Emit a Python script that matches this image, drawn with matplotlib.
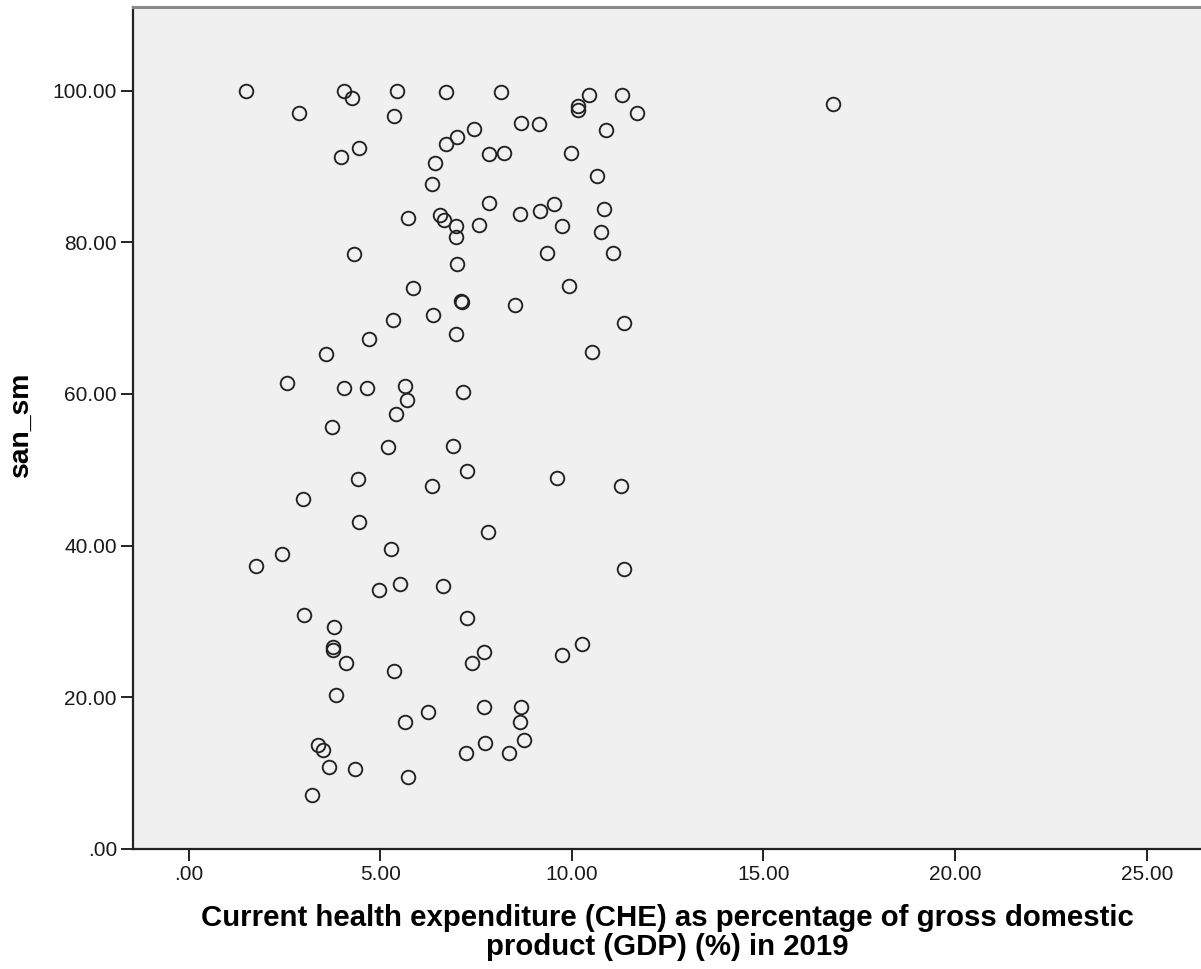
import matplotlib.pyplot as plt
from matplotlib.ticker import FuncFormatter, MultipleLocator

# CHE as % of GDP (2019) against san_sm, one point per country
che_gdp = [
    1.50, 2.89, 4.05, 4.26, 5.44, 5.35, 3.98, 4.46, 4.32, 6.71,
    8.16, 10.45, 11.31, 10.16, 10.16, 11.71, 8.67, 9.14, 10.88, 7.45,
    7.01, 6.72, 7.83, 8.22, 9.97, 6.44, 6.34, 10.66, 7.83, 9.53,
    10.85, 9.16, 8.65, 5.73, 6.57, 6.67, 6.97, 6.97, 7.58, 9.75,
    10.75, 9.34, 11.07, 7.01, 5.85, 9.92, 7.10, 7.14, 8.52, 6.38,
    5.33, 6.98, 4.72, 3.58, 2.57, 4.06, 4.66, 5.64, 5.69, 5.42,
    7.16, 3.75, 5.20, 6.91, 7.27, 4.43, 6.36, 2.98, 16.81, 11.37,
    10.53, 9.60, 11.28, 4.46, 7.82, 5.29, 2.45, 1.76, 4.96, 5.52,
    6.65, 3.00, 3.79, 3.78, 3.76, 4.11, 5.35, 7.26, 7.70, 7.39,
    3.86, 7.70, 6.24, 5.66, 11.37, 10.27, 9.75, 8.68, 8.65, 8.74,
    7.74, 7.24, 8.35, 3.39, 3.52, 3.67, 4.33, 5.72, 3.22,
]
san_sm = [
    100.0, 97.1, 100.0, 99.1, 100.0, 96.7, 91.2, 92.4, 78.5, 99.9,
    99.8, 99.5, 99.5, 98.0, 97.5, 97.0, 95.7, 95.6, 94.8, 94.9,
    93.9, 93.0, 91.6, 91.8, 91.8, 90.5, 87.7, 88.8, 85.2, 85.1,
    84.4, 84.1, 83.7, 83.2, 83.6, 82.9, 82.1, 80.7, 82.3, 82.2,
    81.4, 78.6, 78.6, 77.1, 74.0, 74.3, 72.3, 72.1, 71.7, 70.4,
    69.8, 67.9, 67.2, 65.3, 61.5, 60.8, 60.8, 61.0, 59.2, 57.4,
    60.2, 55.7, 53.0, 53.1, 49.9, 48.8, 47.9, 46.2, 98.2, 69.4,
    65.5, 48.9, 47.9, 43.1, 41.8, 39.5, 38.9, 37.3, 34.1, 34.9,
    34.7, 30.8, 29.2, 26.6, 26.2, 24.5, 23.4, 30.5, 25.9, 24.5,
    20.3, 18.7, 18.0, 16.7, 36.9, 27.0, 25.5, 18.7, 16.7, 14.4,
    14.0, 12.6, 12.6, 13.7, 13.0, 10.8, 10.5, 9.5, 7.1,
]

x_label = ("Current health expenditure (CHE) as percentage of gross domestic\n"
           "product (GDP) (%) in 2019")
y_label = "san_sm"

plt.rcParams["font.family"] = ["Liberation Sans", "DejaVu Sans"]

fig = plt.figure(figsize=(12.01, 9.69), dpi=100)
# the plot frame runs on past the right edge of the canvas
ax = fig.add_axes([0.1107, 0.1241, 0.908, 0.8683])
ax.set_facecolor("#f0f0f0")

ax.plot(che_gdp, san_sm, linestyle="none", marker="o", markersize=9.8,
        markerfacecolor="none", markeredgecolor="#222222", markeredgewidth=1.35)

ax.set_xlim(-1.45, 27.0)
ax.set_ylim(0, 111)
ax.xaxis.set_major_locator(MultipleLocator(5))
ax.yaxis.set_major_locator(MultipleLocator(20))
fmt = FuncFormatter(lambda v, pos: f"{v:.2f}".lstrip("0"))
ax.xaxis.set_major_formatter(fmt)
ax.yaxis.set_major_formatter(fmt)

ax.tick_params(axis="both", direction="out", length=8.5, width=1.4,
               color="#222222", labelsize=15, labelcolor="#1a1a1a")
ax.tick_params(axis="x", pad=3)
ax.tick_params(axis="y", pad=3)

for side in ("left", "bottom"):
    ax.spines[side].set_color("#222222")
    ax.spines[side].set_linewidth(1.6)
ax.spines["top"].set_color("#8a8a8a")
ax.spines["top"].set_linewidth(2.2)
ax.spines["right"].set_visible(False)

ax.set_xlabel(x_label, fontsize=21.2, fontweight="bold", linespacing=1.05)
ax.xaxis.set_label_coords(0.49, -0.0995)
ax.xaxis.label.set_va("center")
ax.set_ylabel(y_label, fontsize=20.3, fontweight="bold")
ax.yaxis.set_label_coords(-0.103, 0.505)
ax.yaxis.label.set_va("center")

fig.savefig("out.png", dpi=100)
